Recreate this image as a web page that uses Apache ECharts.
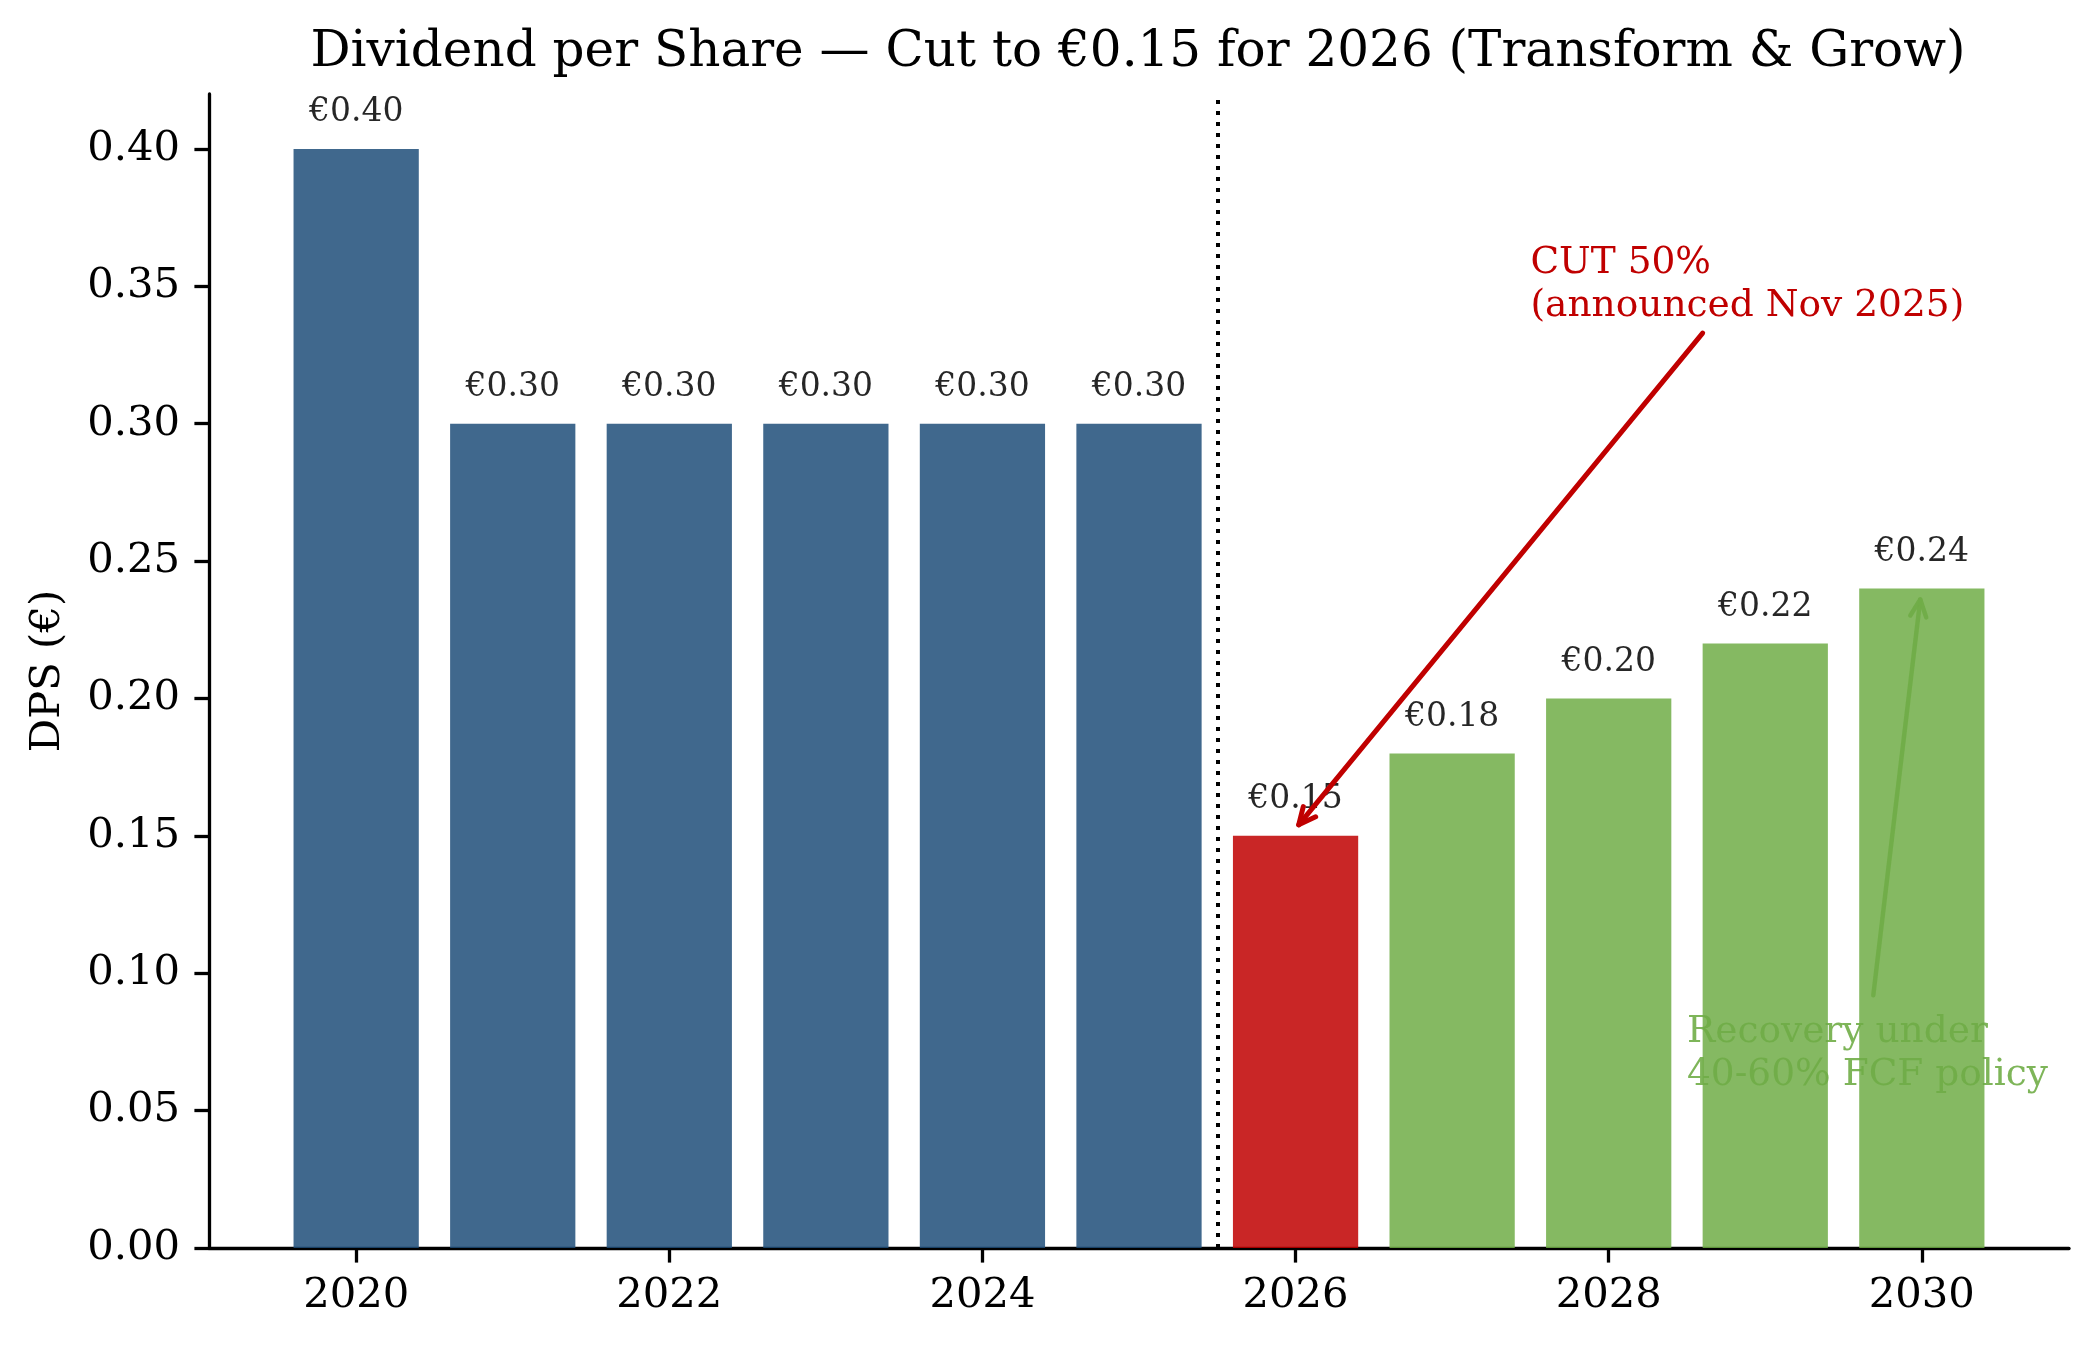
<!DOCTYPE html>
<html>
<head>
<meta charset="utf-8">
<script src="https://cdn.jsdelivr.net/npm/echarts@6/dist/echarts.min.js"></script>
<style>
  html, body { margin: 0; padding: 0; background: #fff; }
  #div_chart { width: 2098px; height: 1347px; }
</style>
</head>
<body>
<div id="div_chart"></div>
<script>
"use strict";

// data
const years = [2020, 2021, 2022, 2023, 2024, 2025, 2026, 2027, 2028, 2029, 2030];
const dps = [0.40, 0.30, 0.30, 0.30, 0.30, 0.30, 0.15, 0.18, 0.20, 0.22, 0.24];
const phase = ["hist", "hist", "hist", "hist", "hist", "hist", "cut", "proj", "proj", "proj", "proj"];
const x_ticks = [2020, 2022, 2024, 2026, 2028, 2030];
const y_ticks = [0, 0.05, 0.10, 0.15, 0.20, 0.25, 0.30, 0.35, 0.40];
const cut_line_x = 2025.5;

// annotations (data coords)
const cut_text = ["CUT 50%", "(announced Nov 2025)"];
const cut_text_at = [2027.5, 0.34];
const cut_arrow = [[2028.6, 0.333], [2026.02, 0.154]];
const rec_text = ["Recovery under", "40-60% FCF policy"];
const rec_text_at = [2028.5, 0.06];
const rec_arrow = [[2029.69, 0.092], [2029.99, 0.236]];

const FONT = "DejaVu Serif";
const colors = { hist: "#1F4E79", cut: "#C00000", proj: "#70AD47" };

const x_min = 2019.06;
const x_max = 2030.94;
const grid = { left: 209, right: 29, top: 94, bottom: 99 };
const grid_w = 2098 - grid.left - grid.right;
const bar_w = 0.8 / (x_max - x_min) * grid_w;

const html_div_chart = document.getElementById("div_chart");
const chart = echarts.init(html_div_chart, null, { renderer: "canvas" });

const bar_data = years.map((y, i) => ({
  value: [y, dps[i]],
  itemStyle: { color: colors[phase[i]], opacity: 0.85 },
}));

chart.setOption({
  animation: false,
  title: {
    text: "Dividend per Share \u2014 Cut to \u20ac0.15 for 2026 (Transform & Grow)",
    left: grid.left + grid_w / 2 - 6,
    top: 23,
    textAlign: "center",
    textStyle: { fontFamily: FONT, fontSize: 50, fontWeight: "normal", color: "#000" },
  },
  grid: grid,
  xAxis: {
    type: "value",
    min: x_min,
    max: x_max,
    splitLine: { show: false },
    axisLine: { show: true, onZero: false, lineStyle: { color: "#000", width: 3.3 } },
    axisTick: { show: true, customValues: x_ticks, length: 14.6, lineStyle: { color: "#000", width: 3.3 } },
    axisLabel: {
      customValues: x_ticks,
      formatter: (v) => String(v),
      fontFamily: FONT, fontSize: 41.7, color: "#000", margin: 27,
    },
  },
  yAxis: {
    type: "value",
    min: 0,
    max: 0.42,
    splitLine: { show: false },
    axisLine: { show: true, lineStyle: { color: "#000", width: 3.3 } },
    axisTick: { show: true, customValues: y_ticks, length: 14.6, lineStyle: { color: "#000", width: 3.3 } },
    axisLabel: {
      customValues: y_ticks,
      formatter: (v) => v.toFixed(2),
      fontFamily: FONT, fontSize: 41.7, color: "#000", margin: 29,
    },
    name: "DPS (\u20ac)",
    nameLocation: "middle",
    nameRotate: 90,
    nameGap: 140,
    nameTextStyle: { fontFamily: FONT, fontSize: 41.7, color: "#000" },
  },
  series: [
    {
      type: "bar",
      data: bar_data,
      barWidth: bar_w,
      label: {
        show: true,
        position: "top",
        distance: 20,
        formatter: (p) => "\u20ac" + p.value[1].toFixed(2),
        fontFamily: FONT,
        fontSize: 33,
        color: "#000",
      },
      markLine: {
        silent: true,
        symbol: "none",
        label: { show: false },
        lineStyle: { color: "#000", width: 4, type: [4, 7] },
        data: [{ xAxis: cut_line_x }],
      },
    },
  ],
});

//
// annotations drawn in pixel space from data coords
//
function px(pt) {
  return chart.convertToPixel({ gridIndex: 0 }, pt);
}

function arrow_elems(arrow, color, width, opacity) {
  const a = px(arrow[0]);
  const b = px(arrow[1]);
  const ang = Math.atan2(b[1] - a[1], b[0] - a[0]);
  const hl = 17, hw = 8;
  const bx = b[0] - hl * Math.cos(ang), by = b[1] - hl * Math.sin(ang);
  const nx = -Math.sin(ang), ny = Math.cos(ang);
  const style = { stroke: color, lineWidth: width, opacity: opacity, fill: null, lineCap: "round", lineJoin: "round" };
  return [
    { type: "line", shape: { x1: a[0], y1: a[1], x2: b[0], y2: b[1] }, style: style, z: 100 },
    {
      type: "polyline",
      shape: { points: [[bx + nx * hw, by + ny * hw], b, [bx - nx * hw, by - ny * hw]] },
      style: style, z: 100,
    },
  ];
}

function text_elems(lines, at, color, opacity) {
  const p = px(at);
  const fs = 37.5;
  const lh = 43;
  const out = [];
  const n = lines.length;
  lines.forEach((t, i) => {
    const baseline = p[1] - (n - 1 - i) * lh;
    out.push({
      type: "text",
      x: p[0],
      y: baseline - 0.2 * fs,
      style: {
        text: t, fontFamily: FONT, fontSize: fs, fill: color, opacity: opacity,
        align: "left", verticalAlign: "middle",
      },
      z: 100,
    });
  });
  return out;
}

chart.setOption({
  graphic: [].concat(
    text_elems(cut_text, cut_text_at, "#C00000", 1),
    arrow_elems(cut_arrow, "#C00000", 5, 1),
    text_elems(rec_text, rec_text_at, "#70AD47", 0.9),
    arrow_elems(rec_arrow, "#70AD47", 4.5, 0.9)
  ),
});
</script>
</body>
</html>
